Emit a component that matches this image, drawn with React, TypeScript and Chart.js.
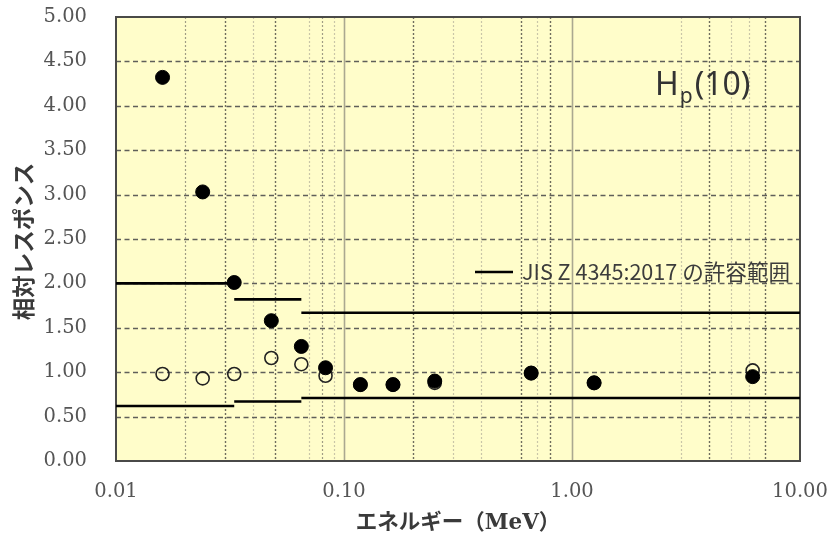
import React, { useEffect, useRef } from 'react';
import { Chart, registerables } from 'chart.js';

Chart.register(...registerables);

// ---- data ----
const energies = [0.016, 0.024, 0.033, 0.048, 0.065, 0.083, 0.118, 0.164, 0.25, 0.662, 1.25, 6.2];
const responseFilled = [4.32, 3.03, 2.01, 1.58, 1.29, 1.05, 0.86, 0.86, 0.9, 0.99, 0.88, 0.95];
const responseOpen = [0.98, 0.93, 0.98, 1.16, 1.09, 0.96, 0.86, 0.86, 0.88, 0.99, 0.88, 1.02];
const boundEdges = [0.01, 0.033, 0.065, 10];
const upperBounds = [2.0, 1.82, 1.67];
const lowerBounds = [0.62, 0.67, 0.71];
const xTickValues = [0.01, 0.1, 1, 10];
const yMin = 0;
const yMax = 5;
const yStep = 0.5;
const gridDark = [0.03, 0.05, 0.2, 0.6, 0.8, 4, 7];
const gridMedium = [0.02, 0.08];
const gridFaint = [0.04, 0.07, 0.09, 0.3, 0.4, 0.7, 3, 5, 6];
const gridDecade = [0.1, 1];
const legendLabel = 'JIS Z 4345:2017 の許容範囲';
const xTitle = 'エネルギー（MeV）';
const yTitle = '相対レスポンス ';
const quantityMain = 'H';
const quantitySub = 'p';
const quantityTail = '(10)';

function segments(bounds: number[]) {
  const pts: { x: number; y: number | null }[] = [];
  bounds.forEach((v, i) => {
    if (i > 0) pts.push({ x: boundEdges[i], y: null });
    pts.push({ x: boundEdges[i], y: v }, { x: boundEdges[i + 1], y: v });
  });
  return pts;
}

const paperPlugin = {
  id: 'paper',
  beforeDatasetsDraw(chart: any) {
    const { ctx, chartArea: a, scales } = chart;
    const x = scales.x;
    const y = scales.y;
    ctx.save();
    ctx.fillStyle = '#fffdca';
    ctx.fillRect(a.left, a.top, a.right - a.left, a.bottom - a.top);

    const vline = (v: number, color: string, dash: number[], w: number) => {
      const px = Math.round(x.getPixelForValue(v)) + 0.5;
      ctx.beginPath();
      ctx.strokeStyle = color;
      ctx.lineWidth = w;
      ctx.setLineDash(dash);
      ctx.moveTo(px, a.top);
      ctx.lineTo(px, a.bottom);
      ctx.stroke();
    };
    gridFaint.forEach((v) => vline(v, '#c9c6a8', [2, 2], 1.2));
    gridMedium.forEach((v) => vline(v, '#a09d85', [2, 2], 1.2));
    gridDark.forEach((v) => vline(v, '#6f6d5e', [2, 2], 1.4));
    gridDecade.forEach((v) => vline(v, '#aaa890', [], 1.6));

    y.ticks.forEach((t: any) => {
      if (t.value <= yMin || t.value >= yMax) return;
      const py = Math.round(y.getPixelForValue(t.value)) + 0.5;
      ctx.beginPath();
      ctx.strokeStyle = '#5f5f5a';
      ctx.lineWidth = 1.5;
      ctx.setLineDash([5, 3.5]);
      ctx.moveTo(a.left, py);
      ctx.lineTo(a.right, py);
      ctx.stroke();
    });

    ctx.setLineDash([]);
    ctx.strokeStyle = '#4a4a48';
    ctx.lineWidth = 2;
    ctx.strokeRect(a.left, a.top, a.right - a.left, a.bottom - a.top);
    ctx.restore();
  },
  afterDatasetsDraw(chart: any) {
    const { ctx, chartArea: a } = chart;
    ctx.save();
    // legend
    const ly = a.top + 255;
    ctx.beginPath();
    ctx.strokeStyle = '#000';
    ctx.lineWidth = 2.5;
    ctx.moveTo(a.right - 325, ly);
    ctx.lineTo(a.right - 287, ly);
    ctx.stroke();
    ctx.fillStyle = '#3c3c3c';
    ctx.font = '21.6px "Noto Sans CJK JP"';
    ctx.textBaseline = 'middle';
    ctx.textAlign = 'left';
    ctx.fillText(legendLabel, a.right - 278, ly);

    // quantity label Hp(10)
    ctx.textBaseline = 'alphabetic';
    const hx = a.right - 145;
    const hy = a.top + 78;
    ctx.fillStyle = '#333';
    ctx.font = '32px "Noto Sans"';
    ctx.fillText(quantityMain, hx, hy);
    const w1 = ctx.measureText(quantityMain).width;
    ctx.font = '21px "Noto Sans"';
    ctx.fillText(quantitySub, hx + w1 + 1, hy + 8);
    const w2 = ctx.measureText(quantitySub).width;
    ctx.font = '32px "Noto Sans"';
    ctx.fillText(quantityTail, hx + w1 + w2 + 3, hy);
    ctx.restore();
  },
};

export default function App() {
  const ref = useRef<HTMLCanvasElement | null>(null);
  useEffect(() => {
    if (!ref.current) return;
    const chart = new Chart(ref.current, {
      type: 'scatter',
      data: {
        datasets: [
          {
            label: 'filled',
            data: energies.map((e, i) => ({ x: e, y: responseFilled[i] })),
            backgroundColor: '#000',
            borderColor: '#000',
            borderWidth: 1,
            pointRadius: 7,
            pointHoverRadius: 7,
          },
          {
            label: 'open',
            data: energies.map((e, i) => ({ x: e, y: responseOpen[i] })),
            backgroundColor: 'rgba(0,0,0,0)',
            borderColor: '#222',
            borderWidth: 1.6,
            pointRadius: 6.5,
            pointHoverRadius: 6.5,
          },
          {
            label: legendLabel,
            data: segments(upperBounds) as any,
            showLine: true,
            spanGaps: false,
            borderColor: '#000',
            borderWidth: 2.6,
            pointRadius: 0,
            pointHoverRadius: 0,
          },
          {
            label: 'lower',
            data: segments(lowerBounds) as any,
            showLine: true,
            spanGaps: false,
            borderColor: '#000',
            borderWidth: 2.6,
            pointRadius: 0,
            pointHoverRadius: 0,
          },
        ],
      },
      options: {
        animation: false,
        responsive: true,
        maintainAspectRatio: false,
        layout: { padding: { top: 17, right: 30, left: 0, bottom: 0 } },
        plugins: {
          legend: { display: false },
          tooltip: { enabled: false },
        },
        scales: {
          x: {
            type: 'logarithmic',
            min: 0.01,
            max: 10,
            afterBuildTicks: (scale: any) => {
              scale.ticks = xTickValues.map((v) => ({ value: v }));
            },
            afterFit: (scale: any) => {
              scale.height = 77;
              scale.paddingLeft = 0;
              scale.paddingRight = 0;
            },
            grid: { display: false, drawTicks: false },
            border: { display: false },
            ticks: {
              autoSkip: false,
              maxRotation: 0,
              padding: 19,
              color: '#555555',
              font: { family: '"DejaVu Serif"', size: 19.5 },
              callback: (v: any) => Number(v).toFixed(2),
            },
            title: {
              display: true,
              text: xTitle,
              color: '#3a3a3a',
              font: { family: '"DejaVu Serif", "Noto Sans CJK JP"', size: 21.5, weight: 'bold' },
              padding: { top: 0, bottom: 2 },
            },
          },
          y: {
            type: 'linear',
            min: yMin,
            max: yMax,
            afterFit: (scale: any) => {
              scale.width = 116;
              scale.paddingTop = 0;
              scale.paddingBottom = 0;
            },
            grid: { display: false, drawTicks: false },
            border: { display: false },
            ticks: {
              stepSize: yStep,
              padding: 29,
              color: '#555555',
              font: { family: '"DejaVu Serif"', size: 19.5 },
              callback: (v: any) => Number(v).toFixed(2),
            },
            title: {
              display: true,
              text: yTitle,
              color: '#3a3a3a',
              font: { family: '"Noto Sans CJK JP"', size: 22.5, weight: 'bold' },
              padding: { top: 10, bottom: 0 },
            },
          },
        },
      } as any,
      plugins: [paperPlugin],
    });
    return () => chart.destroy();
  }, []);

  return (
    <div style={{ position: 'fixed', left: 0, top: 0, width: 830, height: 538, background: '#fff' }}>
      <canvas ref={ref} />
    </div>
  );
}
